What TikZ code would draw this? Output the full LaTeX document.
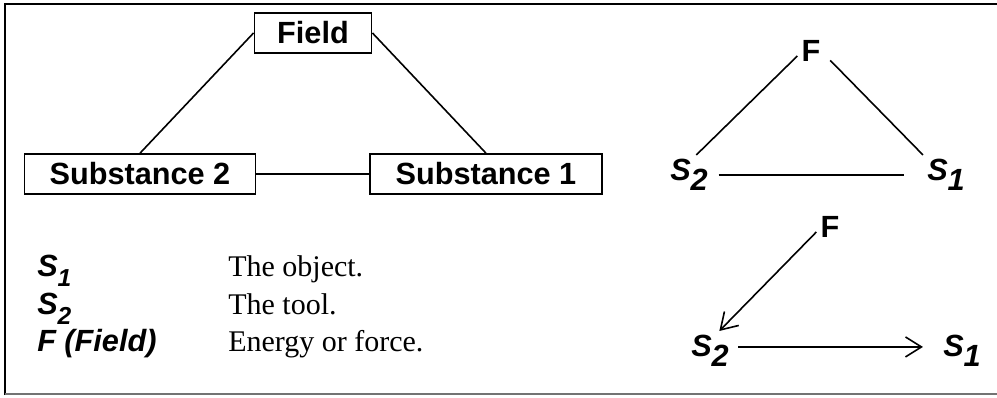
\documentclass[tikz,border=0pt]{standalone}
\usepackage{fontspec}
\usepackage{graphicx}
\setmainfont{Liberation Serif}
\setsansfont{Liberation Sans}
\usetikzlibrary{arrows.meta,positioning}
\newcommand{\subidx}[2][1]{\raisebox{-.33em}{\scalebox{#1}{#2}}}
\tikzset{
  lbl/.style={font=\fontsize{23}{27}\selectfont\sffamily\bfseries},
  sbox/.style={lbl, draw, line width=1.2pt, minimum height=30pt, inner sep=0pt},
  tri/.style={lbl, inner sep=3pt},
  link/.style={line width=1.2pt},
  push/.style={link, -{Straight Barb[length=12pt,width=15pt,line width=1.2pt]}},
  key/.style={anchor=base west, inner sep=0pt, font=\fontsize{23}{27}\selectfont\sffamily\bfseries\itshape},
  desc/.style={anchor=base west, inner sep=0pt, font=\fontsize{22.5}{27}\selectfont\rmfamily}
}
\begin{document}
\begin{tikzpicture}[x=0.75pt, y=-0.75pt]
  \useasboundingbox (0,0) rectangle (997,397);
  % frame
  \draw[line width=1.5pt] (5,395) -- (5,4) -- (997,4);
  \draw[line width=1pt, black!55] (5,394) -- (997,394);
  % substance-field model
  \node[sbox, minimum width=88pt] (field) at (313,33) {Field};
  \node[sbox, minimum width=173pt] (sub2) at (140,174) {Substance 2};
  \node[sbox, minimum width=174pt] (sub1) at (486,174) {Substance 1};
  \draw[link] (field.west) -- (sub2.north);
  \draw[link] (field.east) -- (sub1.north);
  \draw[link] (sub2) -- (sub1);
  % short triangle
  \node[tri] (f) at (811,51) {F};
  \node[tri] (s2) at (689,175) {\itshape S\subidx{2}};
  \node[tri] (s1) at (946,175) {\itshape S\subidx{1}};
  \draw[link] (f.200) -- (s2.70);
  \draw[link, shorten <=6pt] (f.-15) -- (s1.north west);
  \draw[link, shorten <=5pt, shorten >=14pt] (s2) -- (s1);
  % directed triangle
  \node[tri] (fb) at (830,227) {F};
  \node[tri] (s2b) at (710,351) {\itshape S\subidx{2}};
  \node[tri] (s1b) at (962,351) {\itshape S\subidx{1}};
  \draw[push] (fb.200) -- (s2b.65);
  \draw[push, shorten <=4pt, shorten >=12pt] (s2b.10) -- (s1b.170);
  % legend
  \node[key] (k1) at (37,276) {S\subidx[.8]{1}};
  \node[key] (k2) at (37,314) {S\subidx[.8]{2}};
  \node[key] (k3) at (37,351) {F (Field)};
  \node[desc] (d1) at (228,276) {The object.};
  \node[desc] (d2) at (228,314) {The tool.};
  \node[desc] (d3) at (228,351) {Energy or force.};
\end{tikzpicture}
\end{document}
